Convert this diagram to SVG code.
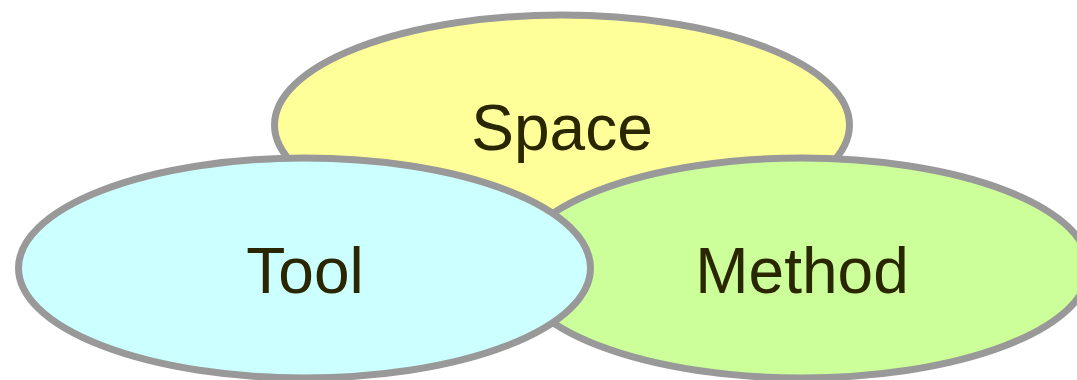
<svg xmlns="http://www.w3.org/2000/svg" width="1077" height="380" viewBox="0 0 1077 380">
<style>
.n{stroke:#999999;stroke-width:7}
.t{font-family:"Liberation Sans",Arial,sans-serif;font-size:64px;fill:#2a2600;text-anchor:middle}
</style>
<rect width="1077" height="380" fill="#ffffff"/>
<g id="connectors"></g>
<g id="space">
<ellipse class="n" cx="562" cy="125" rx="287.5" ry="110" fill="#ffff99"/>
<text class="t" x="562" y="150">Space</text>
</g>
<g id="method">
<ellipse class="n" cx="802" cy="268" rx="287" ry="110" fill="#ccff99"/>
<text class="t" x="802" y="293">Method</text>
</g>
<g id="tool">
<ellipse class="n" cx="304.5" cy="268" rx="286" ry="110" fill="#ccffff"/>
<text class="t" x="305" y="293">Tool</text>
</g>
</svg>
